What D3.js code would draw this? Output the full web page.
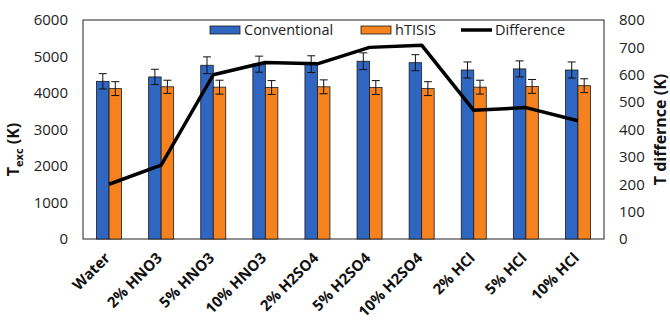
<!DOCTYPE html>
<html>
<head>
<meta charset="utf-8">
<script src="https://cdn.jsdelivr.net/npm/d3@7"></script>
<style>
  body { margin: 0; background: #fff; }
  text { font-family: "Open Sans", "Noto Sans", sans-serif; }
</style>
</head>
<body>
<div id="chart"></div>
<script>
// data
var categories = ["Water", "2% HNO3", "5% HNO3", "10% HNO3", "2% H2SO4", "5% H2SO4", "10% H2SO4", "2% HCl", "5% HCl", "10% HCl"];
var conventional = [4320, 4440, 4760, 4790, 4790, 4870, 4830, 4630, 4660, 4630];
var conventionalErr = [210, 210, 230, 220, 230, 230, 220, 220, 220, 220];
var htisis = [4120, 4170, 4160, 4150, 4170, 4150, 4120, 4160, 4180, 4200];
var htisisErr = [190, 180, 190, 190, 190, 190, 190, 190, 190, 190];
var difference = [200, 270, 600, 645, 640, 700, 708, 470, 480, 432];
var leftTicks = [0, 1000, 2000, 3000, 4000, 5000, 6000];
var rightTicks = [0, 100, 200, 300, 400, 500, 600, 700, 800];

var margin = {top: 20, right: 66, bottom: 90, left: 83},
    width = 670 - margin.left - margin.right,
    height = 329 - margin.top - margin.bottom;

var svg = d3.select("#chart")
    .append("svg")
    .attr("width", 670)
    .attr("height", 329)
    .append("g")
      .attr("transform", "translate(" + margin.left + "," + margin.top + ")");

var x = d3.scaleBand()
    .domain(categories)
    .range([0, width])
    .paddingInner(0.52)
    .paddingOuter(0.26);

var x1 = d3.scaleBand()
    .domain(["conv", "htisis"])
    .range([0, x.bandwidth()]);

var y = d3.scaleLinear().domain([0, 6000]).range([height, 0]);
var y2 = d3.scaleLinear().domain([0, 800]).range([height, 0]);

// plot frame
svg.append("rect")
    .attr("width", width)
    .attr("height", height)
    .attr("fill", "none")
    .attr("stroke", "#222")
    .attr("stroke-width", 1);

// axes
var yAxis = svg.append("g")
    .call(d3.axisLeft(y).tickValues(leftTicks).tickFormat(d3.format("d")).tickSize(0).tickPadding(15));
yAxis.select(".domain").remove();
yAxis.selectAll("text").style("font-size", "15px").attr("fill", "#222");

var y2Axis = svg.append("g")
    .attr("transform", "translate(" + width + ",0)")
    .call(d3.axisRight(y2).tickValues(rightTicks).tickSize(0).tickPadding(15));
y2Axis.select(".domain").remove();
y2Axis.selectAll("text").style("font-size", "15px").attr("fill", "#222");

var xAxis = svg.append("g")
    .attr("transform", "translate(0," + height + ")")
    .call(d3.axisBottom(x).tickSize(0).tickPadding(0));
xAxis.select(".domain").remove();
xAxis.selectAll("text")
    .attr("dy", "0")
    .attr("transform", "translate(2,20)rotate(-45)")
    .style("text-anchor", "end")
    .style("font-size", "15px")
    .style("font-weight", "bold")
    .attr("fill", "#111");

// bars
var rows = categories.map(function(c, i) {
    return {cat: c, conv: conventional[i], convErr: conventionalErr[i],
            ht: htisis[i], htErr: htisisErr[i], diff: difference[i]};
});

var groups = svg.selectAll(".grp")
    .data(rows)
    .enter()
    .append("g")
      .attr("transform", function(d) { return "translate(" + x(d.cat) + ",0)"; });

groups.append("rect")
    .attr("x", x1("conv"))
    .attr("y", function(d) { return y(d.conv); })
    .attr("width", x1.bandwidth())
    .attr("height", function(d) { return height - y(d.conv); })
    .attr("fill", "#2e66c1")
    .attr("stroke", "#1a1a1a")
    .attr("stroke-width", 0.8);

groups.append("rect")
    .attr("x", x1("htisis"))
    .attr("y", function(d) { return y(d.ht); })
    .attr("width", x1.bandwidth())
    .attr("height", function(d) { return height - y(d.ht); })
    .attr("fill", "#f5821f")
    .attr("stroke", "#1a1a1a")
    .attr("stroke-width", 0.8);

// error bars
function errBar(sel, key, val, err) {
    var cx = x1(key) + x1.bandwidth() / 2;
    sel.append("line")
        .attr("x1", cx).attr("x2", cx)
        .attr("y1", function(d) { return y(d[val] + d[err]); })
        .attr("y2", function(d) { return y(d[val] - d[err]); })
        .attr("stroke", "#111").attr("stroke-width", 1);
    [1, -1].forEach(function(s) {
        sel.append("line")
            .attr("x1", cx - 4).attr("x2", cx + 4)
            .attr("y1", function(d) { return y(d[val] + s * d[err]); })
            .attr("y2", function(d) { return y(d[val] + s * d[err]); })
            .attr("stroke", "#111").attr("stroke-width", 1);
    });
}
errBar(groups, "conv", "conv", "convErr");
errBar(groups, "htisis", "ht", "htErr");

// difference line
var line = d3.line()
    .x(function(d) { return x(d.cat) + x.bandwidth() / 2; })
    .y(function(d) { return y2(d.diff); });

svg.append("path")
    .datum(rows)
    .attr("d", line)
    .attr("fill", "none")
    .attr("stroke", "#000")
    .attr("stroke-width", 3.5)
    .attr("stroke-linejoin", "round");

// legend
var legend = svg.append("g").attr("transform", "translate(0,10)");
var legItems = [
    {label: "Conventional", type: "bar", color: "#2e66c1", x: 127},
    {label: "hTISIS", type: "bar", color: "#f5821f", x: 278},
    {label: "Difference", type: "line", color: "#000", x: 378}
];
legItems.forEach(function(d) {
    if (d.type == "bar") {
        legend.append("rect")
            .attr("x", d.x).attr("y", -4)
            .attr("width", 30).attr("height", 8)
            .attr("fill", d.color)
            .attr("stroke", "#1a1a1a").attr("stroke-width", 0.8);
    } else {
        legend.append("line")
            .attr("x1", d.x).attr("x2", d.x + 31)
            .attr("y1", 0).attr("y2", 0)
            .attr("stroke", d.color).attr("stroke-width", 3.5);
    }
    legend.append("text")
        .attr("x", d.x + 34)
        .attr("y", 0)
        .attr("dy", "0.35em")
        .style("font-size", "14.5px")
        .attr("fill", "#222")
        .text(d.label);
});

// axis titles
var lt = svg.append("text")
    .attr("transform", "translate(" + (-64) + "," + (height / 2 + 20) + ")rotate(-90)")
    .attr("text-anchor", "middle")
    .style("font-size", "16px")
    .style("font-weight", "bold")
    .attr("fill", "#111");
lt.append("tspan").text("T");
lt.append("tspan").attr("dy", "4").style("font-size", "11px").text("exc");
lt.append("tspan").attr("dy", "-4").text(" (K)");

svg.append("text")
    .attr("transform", "translate(" + (width + 62) + "," + (height / 2) + ")rotate(-90)")
    .attr("text-anchor", "middle")
    .style("font-size", "16px")
    .style("font-weight", "bold")
    .attr("fill", "#111")
    .text("T differnce (K)");
</script>
</body>
</html>
